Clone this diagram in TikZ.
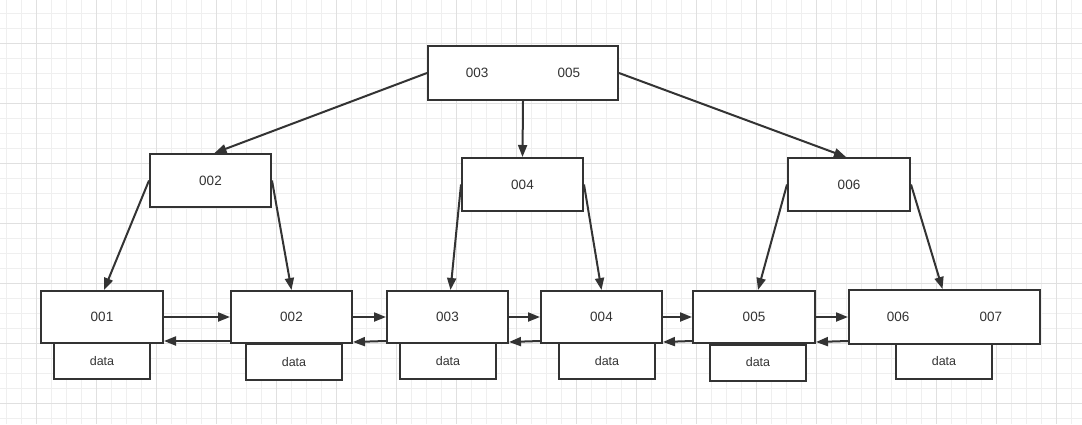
\documentclass[tikz,border=0pt]{standalone}
\usepackage{fontspec}
\setmainfont{Liberation Sans}
\usetikzlibrary{arrows.meta}

\definecolor{ink}{HTML}{333333}
\definecolor{gridminor}{HTML}{EFEFEF}
\definecolor{gridmajor}{HTML}{E0E0E0}

\tikzset{
    keybox/.style={draw=ink, fill=white, line width=2pt, minimum width=121pt, minimum height=53pt, inner sep=0pt, text=ink, font=\fontsize{13.5}{15}\selectfont},
    databox/.style={draw=ink, fill=white, line width=2pt, minimum width=96pt, minimum height=36pt, inner sep=0pt, text=ink, font=\fontsize{12.5}{14}\selectfont},
    link/.style={draw=ink, line width=2pt, -{Triangle[length=12pt,width=9pt]}},
}

\begin{document}
\begin{tikzpicture}[x=1pt, y=-1pt]
    \useasboundingbox (0,0) rectangle (1082,424);
    \fill[white] (0,0) rectangle (1082,424);

    % grid
    \foreach \x in {6.7,21.7,...,1082} \draw[gridminor, line width=1pt] (\x,0) -- (\x,424);
    \foreach \y in {13.3,28.3,...,424} \draw[gridminor, line width=1pt] (0,\y) -- (1082,\y);
    \foreach \x in {36.7,96.7,...,1082} \draw[gridmajor, line width=1pt] (\x,0) -- (\x,424);
    \foreach \y in {43.3,103.3,...,424} \draw[gridmajor, line width=1pt] (0,\y) -- (1082,\y);

    % data
    \node[databox] (d001) at (102,361) {data};
    \node[databox] (d002) at (294,362) {data};
    \node[databox] (d003) at (448,361) {data};
    \node[databox] (d004) at (607,361) {data};
    \node[databox] (d005) at (758,362.5) {data};
    \node[databox] (d006) at (944,361) {data};

    % leaves
    \node[keybox, minimum width=122pt, minimum height=52pt] (l001) at (102,317) {001};
    \node[keybox, minimum height=52pt] (l002) at (291.5,317) {002};
    \node[keybox, minimum height=52pt] (l003) at (447.5,317) {003};
    \node[keybox, minimum height=52pt] (l004) at (601.5,317) {004};
    \node[keybox, minimum width=122pt, minimum height=52pt] (l005) at (754,317) {005};
    \node[keybox, minimum width=191pt, minimum height=54pt] (l006) at (944.5,317) {006\hspace{70pt}007};

    % inner
    \node[keybox, minimum width=190pt, minimum height=54pt] (root) at (523,73) {003\hspace{69pt}005};
    \node[keybox] (n002) at (210.5,180.5) {002};
    \node[keybox] (n004) at (522.5,184.5) {004};
    \node[keybox, minimum width=122pt] (n006) at (849,184.5) {006};

    % tree
    \draw[link] (root.west) -- ([xshift=4pt]n002.north);
    \draw[link] (root.south) -- (n004.north);
    \draw[link] (root.east) -- ([xshift=-3pt]n006.north);
    \draw[link] (n002.west) -- ([xshift=2pt]l001.north);
    \draw[link] (n002.east) -- (l002.north);
    \draw[link] (n004.west) -- ([xshift=3pt]l003.north);
    \draw[link] (n004.east) -- (l004.north);
    \draw[link] (n006.west) -- ([xshift=4pt]l005.north);
    \draw[link] (n006.east) -- ([xshift=-2pt]l006.north);

    % leaf chain
    \draw[link] (l001.east) -- (l002.west);
    \draw[link] (l002.east) -- (l003.west);
    \draw[link] (l003.east) -- (l004.west);
    \draw[link] (l004.east) -- (l005.west);
    \draw[link] (l005.east) -- (l006.west);
    \draw[link] ([yshift=3pt]l002.south west) -- ([yshift=3pt]l001.south east);
    \draw[link] ([yshift=3pt]l003.south west) -- ([yshift=2pt]l002.south east);
    \draw[link] ([yshift=3pt]l004.south west) -- ([yshift=2pt]l003.south east);
    \draw[link] ([yshift=3pt]l005.south west) -- ([yshift=2pt]l004.south east);
    \draw[link] ([yshift=4pt]l006.south west) -- ([yshift=2pt]l005.south east);
\end{tikzpicture}
\end{document}
